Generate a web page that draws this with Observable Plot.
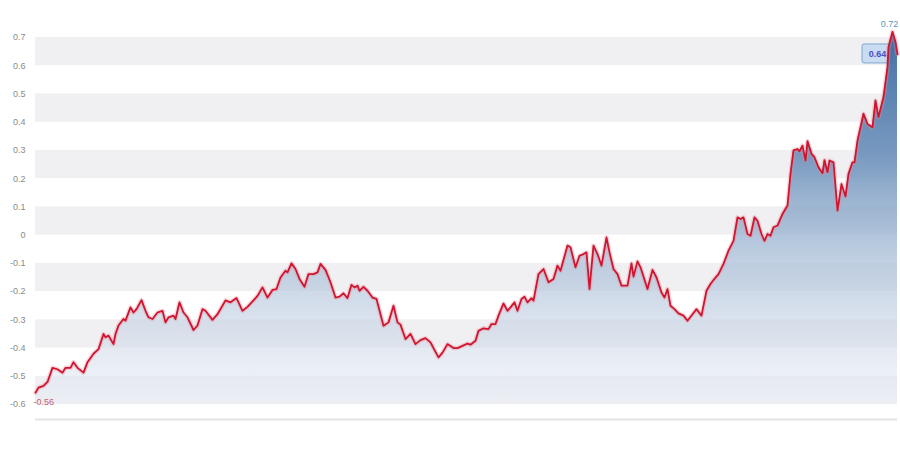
<!DOCTYPE html>
<html>
<head>
<meta charset="utf-8">
<script src="https://cdn.jsdelivr.net/npm/d3@7"></script>
<script src="https://cdn.jsdelivr.net/npm/@observablehq/plot@0.6"></script>
<style>
  html, body { margin: 0; padding: 0; background: #fff; }
  #chart { width: 900px; height: 454px; }
</style>
</head>
<body>
<div id="chart"></div>
<script>
// ---- data ----
const periods = [0,3,8,12,17,22,27,30,35,38,42,48,52,58,63,68,70,73,78,80,83,88,90,95,98,101,106,110,113,117,122,127,130,133,138,140,144,148,152,158,162,167,170,177,182,190,195,201,207,212,218,222,227,232,237,241,245,250,252,256,260,264,269,273,278,282,285,290,295,300,304,308,312,316,319,322,324,328,332,337,341,345,348,353,358,362,365,370,375,380,385,390,395,398,403,407,412,418,422,427,432,435,440,443,448,453,456,460,463,468,472,475,479,482,486,489,492,496,498,503,508,513,518,522,525,532,535,540,544,548,551,554,558,562,566,571,574,578,582,586,592,596,598,602,605,612,617,621,626,629,632,635,639,643,648,652,657,661,666,671,675,678,683,688,693,698,702,705,708,712,715,719,722,726,729,732,735,738,742,747,752,755,758,762,764,767,770,772,776,779,783,787,789,792,794,798,802,806,810,813,817,819,822,825,828,832,837,840,843,848,852,853,857,860,862];
const values = [-0.558,-0.54,-0.534,-0.52,-0.47,-0.475,-0.487,-0.47,-0.47,-0.45,-0.47,-0.487,-0.45,-0.42,-0.404,-0.35,-0.362,-0.356,-0.386,-0.35,-0.32,-0.297,-0.303,-0.256,-0.274,-0.262,-0.23,-0.268,-0.291,-0.297,-0.274,-0.268,-0.309,-0.291,-0.285,-0.297,-0.238,-0.274,-0.291,-0.336,-0.32,-0.262,-0.268,-0.30,-0.28,-0.231,-0.238,-0.223,-0.268,-0.254,-0.231,-0.215,-0.185,-0.221,-0.194,-0.191,-0.15,-0.126,-0.132,-0.10,-0.12,-0.155,-0.183,-0.138,-0.138,-0.132,-0.102,-0.123,-0.167,-0.221,-0.218,-0.206,-0.223,-0.176,-0.185,-0.179,-0.197,-0.183,-0.197,-0.221,-0.226,-0.28,-0.321,-0.309,-0.25,-0.309,-0.317,-0.368,-0.35,-0.386,-0.372,-0.365,-0.38,-0.40,-0.433,-0.416,-0.386,-0.40,-0.40,-0.392,-0.384,-0.388,-0.374,-0.339,-0.33,-0.333,-0.315,-0.315,-0.285,-0.242,-0.268,-0.256,-0.238,-0.268,-0.226,-0.218,-0.238,-0.223,-0.232,-0.138,-0.12,-0.167,-0.155,-0.108,-0.126,-0.037,-0.043,-0.114,-0.073,-0.067,-0.061,-0.191,-0.037,-0.067,-0.108,-0.008,-0.061,-0.12,-0.138,-0.179,-0.179,-0.10,-0.147,-0.093,-0.114,-0.191,-0.123,-0.15,-0.203,-0.221,-0.191,-0.25,-0.262,-0.277,-0.285,-0.303,-0.28,-0.262,-0.285,-0.197,-0.173,-0.159,-0.138,-0.102,-0.055,-0.02,0.063,0.057,0.063,0.004,-0.002,0.063,0.051,0.004,-0.02,0.004,-0.002,0.028,0.034,0.075,0.105,0.217,0.30,0.305,0.297,0.317,0.264,0.333,0.288,0.276,0.24,0.219,0.266,0.223,0.264,0.258,0.087,0.181,0.137,0.217,0.258,0.258,0.335,0.382,0.43,0.394,0.382,0.477,0.418,0.489,0.595,0.666,0.72,0.684,0.64];
const yTicks = [0.7,0.6,0.5,0.4,0.3,0.2,0.1,0,-0.1,-0.2,-0.3,-0.4,-0.5,-0.6];
const bandLows = [0.6,0.4,0.2,0.0,-0.2,-0.4,-0.6];
const bandHighs = [0.7,0.5,0.3,0.1,-0.1,-0.3,-0.5];
const yDomain = [-0.653, 0.7];
const areaBase = -0.6;
const minLabel = "-0.56";
const maxLabel = "0.72";
const lastLabel = "0.64";

// ---- tables built from the arrays ----
const series = periods.map((t, i) => ({t, v: values[i]}));
const bands = bandLows.map((lo, i) => ({lo, hi: bandHighs[i]}));
const first = series[0];
const last = series[series.length - 1];
const peak = series.reduce((a, b) => (b.v > a.v ? b : a));

const NS = "http://www.w3.org/2000/svg";
function el(name, attrs) {
  const e = document.createElementNS(NS, name);
  for (const k in attrs) e.setAttribute(k, attrs[k]);
  return e;
}

// gradient definition, placed with the y scale
function gradientDefs(index, scales) {
  const defs = el("defs", {});
  const g = el("linearGradient", {id: "areaGrad", gradientUnits: "userSpaceOnUse",
    x1: 0, x2: 0, y1: scales.y(0.7), y2: scales.y(areaBase)});
  [["0", "#3a6aa1", 0.95], ["0.3", "#6289b6", 0.88], ["0.6", "#a6bcd6", 0.72], ["0.85", "#d3dcea", 0.6], ["1", "#e9edf6", 0.55]]
    .forEach(([o, c, op]) => g.appendChild(el("stop", {offset: o, "stop-color": c, "stop-opacity": op})));
  defs.appendChild(g);
  return defs;
}

// label box for the last value
function lastBox(index, scales) {
  const x = scales.x(last.t), y = scales.y(last.v);
  const g = el("g", {});
  g.appendChild(el("rect", {x: x - 35, y: y - 10, width: 31, height: 19, rx: 2, ry: 2,
    fill: "#c9dcf3", stroke: "#7fa7d0", "stroke-width": 1}));
  const t = el("text", {x: x - 19.5, y: y + 3, "text-anchor": "middle", fill: "#4b4fc4",
    "font-size": 9, "font-weight": "bold", "font-family": "Liberation Sans, Arial, sans-serif"});
  t.textContent = lastLabel;
  g.appendChild(t);
  return g;
}

const chart = Plot.plot({
  width: 900,
  height: 454,
  marginLeft: 35,
  marginRight: 3,
  marginTop: 37,
  marginBottom: 35,
  style: {fontFamily: "Liberation Sans, Arial, sans-serif", fontSize: "9px", color: "#8a8a8a", background: "#fff"},
  x: {domain: [0, 862], axis: null},
  y: {domain: yDomain, ticks: yTicks, tickSize: 0, tickPadding: 10, label: null,
      tickFormat: d => String(Math.round(d * 10) / 10)},
  marks: [
    gradientDefs,
    Plot.rectY(bands, {y1: "lo", y2: "hi", fill: "#f0f0f2"}),
    Plot.ruleY([yDomain[0]], {stroke: "#e4e4e6", strokeWidth: 2}),
    lastBox,
    Plot.areaY(series, {x: "t", y1: areaBase, y2: "v", fill: "url(#areaGrad)"}),
    Plot.lineY(series, {x: "t", y: "v", stroke: "#ee8a98", strokeWidth: 4.5, strokeOpacity: 0.35}),
    Plot.lineY(series, {x: "t", y: "v", stroke: "#cf1430", strokeWidth: 1.8}),
    Plot.text([first], {x: "t", y: "v", text: () => minLabel, textAnchor: "start", dx: -2, dy: 9, fill: "#c4606e", fontSize: 9}),
    Plot.text([peak], {x: "t", y: "v", text: () => maxLabel, textAnchor: "middle", dx: -3, dy: -8, fill: "#5b97b8", fontSize: 9})
  ]
});
document.getElementById("chart").appendChild(chart);
</script>
</body>
</html>
